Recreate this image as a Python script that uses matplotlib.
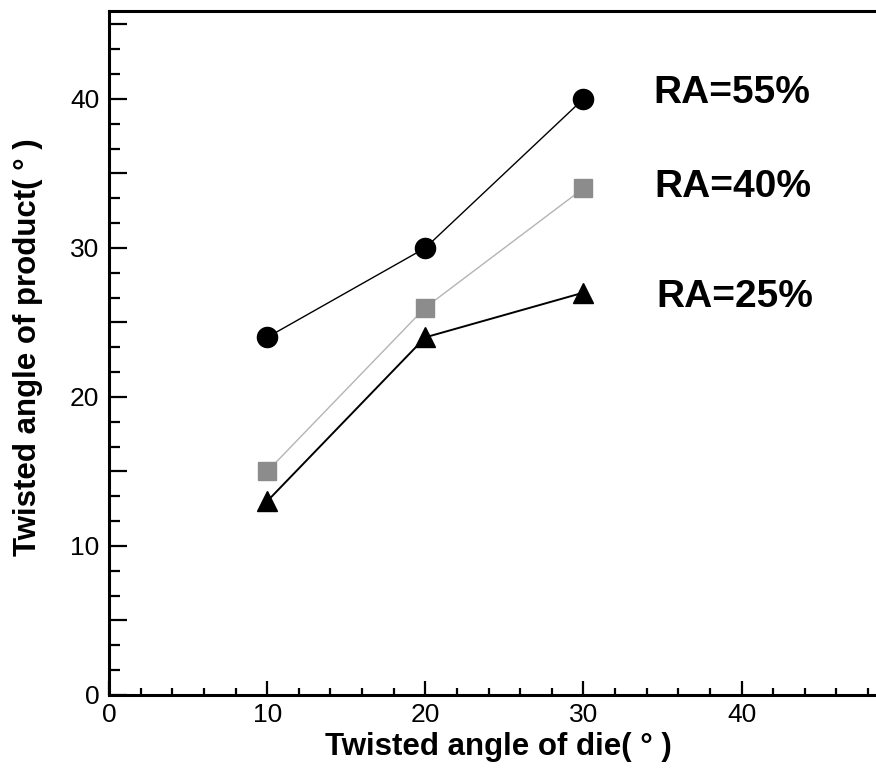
import numpy as np
import matplotlib
matplotlib.use("Agg")
import matplotlib.pyplot as plt
from matplotlib.ticker import MultipleLocator, FixedLocator, FuncFormatter

# Data
die_angle = [10, 20, 30]
ra55 = [24, 30, 40]
ra40 = [15, 26, 34]
ra25 = [13, 24, 27]
series_labels = ["RA=55%", "RA=40%", "RA=25%"]

plt.rcParams["font.family"] = ["Liberation Sans", "DejaVu Sans"]

fig = plt.figure(figsize=(8.76, 7.69), dpi=100)
ax = fig.add_axes([109 / 876, 74 / 769, 1 - 109 / 876, 684 / 769])

ax.plot(die_angle, ra55, color="black", lw=1.0, marker="o", ms=14.5,
        mfc="black", mec="black", zorder=3)
ax.plot(die_angle, ra40, color="#b4b4b4", lw=1.0, marker="s", ms=12.5,
        mfc="#8c8c8c", mec="#8c8c8c", zorder=3)
ax.plot(die_angle, ra25, color="black", lw=1.4, marker="^", ms=14,
        mfc="black", mec="black", zorder=3)

# series labels next to the last points
text_pos = [(34.4, 40.4), (34.5, 34.1), (34.6, 26.7)]
for lab, (tx, ty) in zip(series_labels, text_pos):
    ax.text(tx, ty, lab, fontsize=28, fontweight="bold", ha="left", va="center")

ax.set_xlim(0, 48.5)
ax.set_ylim(0, 45.9)

# ticks
ax.xaxis.set_major_locator(MultipleLocator(10))
ax.xaxis.set_minor_locator(MultipleLocator(2))
ax.yaxis.set_major_locator(MultipleLocator(5))
ax.yaxis.set_minor_locator(FixedLocator(np.arange(0, 46, 5 / 3)))
ax.yaxis.set_major_formatter(FuncFormatter(lambda v, p: "%d" % v if round(v) % 10 == 0 else ""))

ax.tick_params(axis="both", which="both", direction="in", width=1.6, colors="black")
ax.tick_params(axis="x", which="major", length=10, pad=6)
ax.tick_params(axis="x", which="minor", length=5)
ax.tick_params(axis="y", which="major", length=13, pad=7)
ax.tick_params(axis="y", which="minor", length=8)
ax.tick_params(top=False, right=False, which="both")

for lab in ax.get_xticklabels():
    lab.set_fontsize(19)
for lab in ax.get_yticklabels():
    lab.set_fontsize(19)

for side in ["left", "bottom", "top"]:
    ax.spines[side].set_linewidth(2.2)
ax.spines["right"].set_visible(False)

ax.set_xlabel("Twisted angle of die( \u00b0 )", fontsize=22.5, fontweight="bold")
ax.set_ylabel("Twisted angle of product( \u00b0 )", fontsize=22.5, fontweight="bold")
ax.xaxis.set_label_coords((498 - 109) / 767, -(732 - 695) / 684)
ax.yaxis.set_label_coords(-(109 - 43) / 767, (695 - 347) / 684)

fig.savefig("out.png", dpi=100)
